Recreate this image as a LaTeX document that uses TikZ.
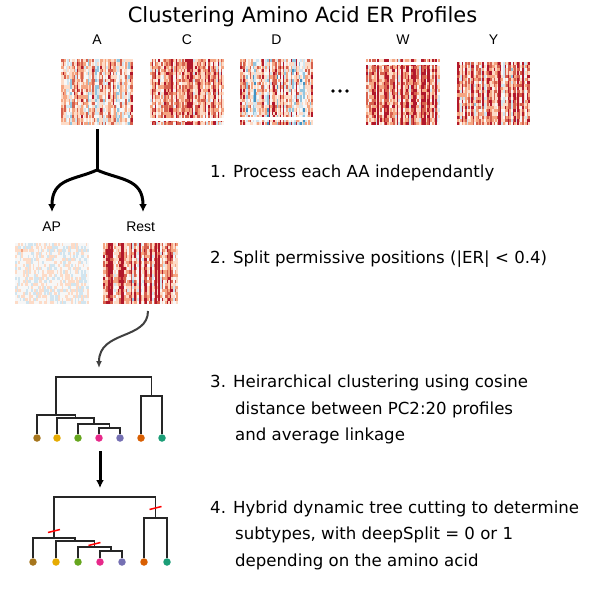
\documentclass[tikz,border=0pt]{standalone}
\usepackage{fontspec}
\setmainfont{DejaVu Sans}
\newfontfamily\arialf{Liberation Sans}
\usetikzlibrary{arrows.meta}
\definecolor{hm1}{RGB}{33,102,172}
\definecolor{hm2}{RGB}{67,147,195}
\definecolor{hm3}{RGB}{146,197,222}
\definecolor{hm4}{RGB}{209,229,240}
\definecolor{hm5}{RGB}{247,247,247}
\definecolor{hm6}{RGB}{253,219,199}
\definecolor{hm7}{RGB}{244,165,130}
\definecolor{hm8}{RGB}{214,96,77}
\definecolor{hm9}{RGB}{178,24,43}
\definecolor{lbrown}{RGB}{166,118,29}
\definecolor{lgold}{RGB}{230,171,2}
\definecolor{lgreen}{RGB}{102,166,30}
\definecolor{lpink}{RGB}{231,41,138}
\definecolor{lpurple}{RGB}{117,112,179}
\definecolor{lorange}{RGB}{217,95,2}
\definecolor{lteal}{RGB}{27,158,119}
\newcommand\hmap[8]{%
  \pgfmathsetseed{#5}%
  \fill[hm5] (#1,#2) rectangle ++(#3,#4);
  \pgfmathsetmacro\hcw{#3/46}%
  \pgfmathsetmacro\hch{#4/20}%
  \foreach \hi in {0,...,45}{%
    \pgfmathsetmacro\hb{#6+#7*rnd}%
    \foreach \hj in {0,...,19}{%
      \pgfmathsetmacro\hv{\hb+#8*(rnd-0.5)}%
      \pgfmathtruncatemacro\hk{max(1,min(9,round(\hv*4)+5))}%
      \ifnum\hk=5\relax\else
        \fill[hm\hk] (#1+\hi*\hcw,#2+\hj*\hch) rectangle ++(\hcw,\hch);
      \fi
    }%
  }%
}
\tikzset{
  titlef/.style={inner sep=0, font=\fontsize{21}{24}\selectfont},
  aalab/.style={inner sep=0, font=\arialf\fontsize{14}{16}\selectfont},
  steptxt/.style={inner sep=0, anchor=base west, font=\fontsize{16.6}{19}\selectfont},
  bigarrow/.style={line width=3pt, -{Latex[length=8pt,width=8pt]}},
  softarrow/.style={line width=2pt, black!75, -{Latex[length=7pt,width=6pt]}},
  dend/.style={line width=1.6pt, black!85},
  leaf/.style={circle, inner sep=0, minimum size=7.5pt},
  cut/.style={line width=1.5pt, red},
}
\begin{document}
\begin{tikzpicture}[x=1pt,y=-1pt]
\useasboundingbox (0,0) rectangle (591,591);
\fill[white] (0,0) rectangle (591,591);

\node[titlef, anchor=base] (title) at (302.5,23) {Clustering Amino Acid ER Profiles};

% labels
\node[aalab, anchor=base] (lA) at (97,45) {A};
\node[aalab, anchor=base] (lC) at (187,45) {C};
\node[aalab, anchor=base] (lD) at (276.5,45) {D};
\node[aalab, anchor=base] (lW) at (403,45) {W};
\node[aalab, anchor=base] (lY) at (493.5,45) {Y};

% heatmaps
\hmap{61}{59}{72}{66}{11}{-0.2}{1.0}{0.8}
\hmap{150}{59}{74}{66}{23}{0.05}{1.1}{0.8}
\fill[white] (150,118) rectangle (224,121);
\hmap{240}{59}{73}{66}{37}{-0.3}{1.2}{0.9}
\fill[white] (240,117) rectangle (313,120);
\hmap{366}{59}{74}{66}{41}{0.05}{1.2}{0.8}
\fill[white] (366,62) rectangle (440,65);
\hmap{457}{62}{73}{63}{53}{-0.1}{1.2}{0.8}

\fill (333,91) circle[radius=1.9pt];
\fill (340,91) circle[radius=1.9pt];
\fill (347,91) circle[radius=1.9pt];

% split arrows
\coordinate (Abot) at (97,129);
\coordinate (junc) at (97,170);
\coordinate (APtip) at (52,212);
\coordinate (Resttip) at (143,212);
\draw[line width=3pt] (Abot) -- (junc);
\draw[bigarrow] (junc) .. controls (75,180) and (52,178) .. (APtip);
\draw[bigarrow] (junc) .. controls (119,180) and (143,178) .. (Resttip);

\node[aalab, anchor=base] (lAP) at (51.7,231) {AP};
\node[aalab, anchor=base] (lRest) at (140.7,231) {Rest};

\hmap{15}{243}{74}{61}{61}{-0.08}{0.2}{0.55}
\hmap{103}{243}{75}{61}{71}{0}{1.3}{0.8}

\coordinate (Restbot) at (148,311);
\coordinate (d1top) at (99,368);
\draw[softarrow] (Restbot) .. controls (148,340) and (99,330) .. (d1top);

% dendrogram 1
\node[leaf, fill=lbrown] (a1) at (37,438) {};
\node[leaf, fill=lgold] (a2) at (57,438) {};
\node[leaf, fill=lgreen] (a3) at (78,438) {};
\node[leaf, fill=lpink] (a4) at (99,438) {};
\node[leaf, fill=lpurple] (a5) at (120,438) {};
\node[leaf, fill=lorange] (a6) at (141,438) {};
\node[leaf, fill=lteal] (a7) at (162,438) {};
\coordinate (an4) at (109.5,428);
\coordinate (an3) at (93.75,424);
\coordinate (an2) at (75.4,418);
\coordinate (an1) at (56.2,415);
\coordinate (anm) at (151.5,396);
\coordinate (anr) at (103.9,377);
\draw[dend] (a4) |- (an4); \draw[dend] (a5) |- (an4);
\draw[dend] (a3) |- (an3); \draw[dend] (an4) |- (an3);
\draw[dend] (a2) |- (an2); \draw[dend] (an3) |- (an2);
\draw[dend] (a1) |- (an1); \draw[dend] (an2) |- (an1);
\draw[dend] (a6) |- (anm); \draw[dend] (a7) |- (anm);
\draw[dend] (an1) |- (anr); \draw[dend] (anm) |- (anr);

\coordinate (d1bot) at (100,451);
\coordinate (d2top) at (100,488);
\draw[bigarrow] (d1bot) -- (d2top);

% dendrogram 2
\node[leaf, fill=lbrown] (b1) at (33,562) {};
\node[leaf, fill=lgold] (b2) at (56,562) {};
\node[leaf, fill=lgreen] (b3) at (78,562) {};
\node[leaf, fill=lpink] (b4) at (100,562) {};
\node[leaf, fill=lpurple] (b5) at (122,562) {};
\node[leaf, fill=lorange] (b6) at (144,562) {};
\node[leaf, fill=lteal] (b7) at (167,562) {};
\coordinate (bn4) at (111,551);
\coordinate (bn3) at (94.5,547);
\coordinate (bn2) at (75.25,541);
\coordinate (bn1) at (54.1,538);
\coordinate (bnm) at (155.5,518);
\coordinate (bnr) at (104.8,497);
\draw[dend] (b4) |- (bn4); \draw[dend] (b5) |- (bn4);
\draw[dend] (b3) |- (bn3); \draw[dend] (bn4) |- (bn3);
\draw[dend] (b2) |- (bn2); \draw[dend] (bn3) |- (bn2);
\draw[dend] (b1) |- (bn1); \draw[dend] (bn2) |- (bn1);
\draw[dend] (b6) |- (bnm); \draw[dend] (b7) |- (bnm);
\draw[dend] (bn1) |- (bnr); \draw[dend] (bnm) |- (bnr);
\draw[cut] (48,532.5) -- (60,529.5);
\draw[cut] (149.5,509.5) -- (161.5,506.5);
\draw[cut] (88.5,545.5) -- (100.5,542.5);

% step texts
\node[steptxt] (s1) at (210,177) {1. Process each AA independantly};
\node[steptxt] (s2) at (210,263) {2. Split permissive positions (|ER| < 0.4)};
\node[steptxt] (s3a) at (210,387) {3. Heirarchical clustering using cosine};
\node[steptxt] (s3b) at (235,414) {distance between PC2:20 profiles};
\node[steptxt] (s3c) at (235,440) {and average linkage};
\node[steptxt] (s4a) at (210,513) {4. Hybrid dynamic tree cutting to determine};
\node[steptxt] (s4b) at (235,539.5) {subtypes, with deepSplit = 0 or 1};
\node[steptxt] (s4c) at (235,566) {depending on the amino acid};
\end{tikzpicture}
\end{document}
